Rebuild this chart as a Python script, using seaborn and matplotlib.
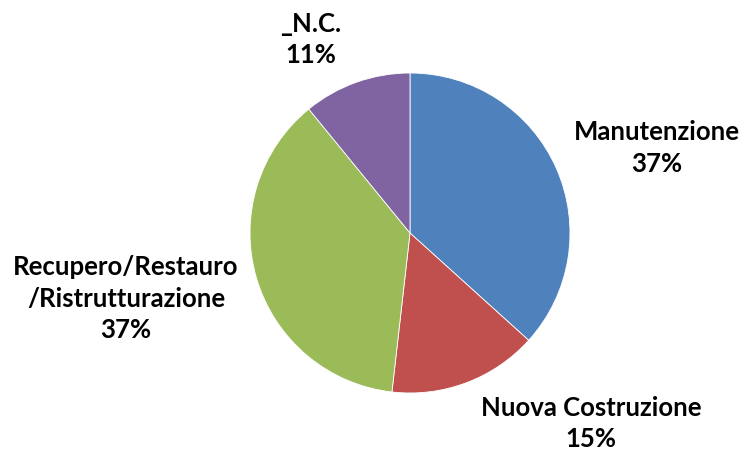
import matplotlib
matplotlib.use('Agg')
import matplotlib.pyplot as plt
import seaborn as sns
import numpy as np

sns.set_theme(style='white')
plt.rcParams['font.family'] = ['Lato', 'DejaVu Sans']

# dati
categorie = ['Manutenzione', 'Nuova Costruzione', 'Recupero/Restauro\n/Ristrutturazione', '_N.C.']
valori = [36.7, 15.1, 37.3, 10.9]
etichette_pct = ['37%', '15%', '37%', '11%']
colori = ['#4F81BD', '#C0504D', '#9BBB59', '#8064A2']

# posizione etichette (stile, fuori dalla torta)
pos_etichette = [(1.544, 0.53), (1.13, -1.19), (-1.775, -0.41), (-0.62, 1.21)]

fig = plt.figure(figsize=(7.46, 4.55), dpi=100)
ax = fig.add_axes([0, 0, 1, 1])

wedges, _ = ax.pie(valori, colors=colori, startangle=90, counterclock=False,
                   radius=1, wedgeprops=dict(edgecolor='white', linewidth=0.6))

for cat, pct, (x, y) in zip(categorie, etichette_pct, pos_etichette):
    ax.text(x, y, cat + '\n' + pct, ha='center', va='center',
            fontsize=18.5, fontweight='bold', color='black', linespacing=1.38)

ax.set_xlim(-2.5625, 2.1)
ax.set_ylim(-1.3875, 1.4563)
ax.set_aspect('equal')
ax.axis('off')

fig.savefig('out.png', dpi=100, facecolor='white')
